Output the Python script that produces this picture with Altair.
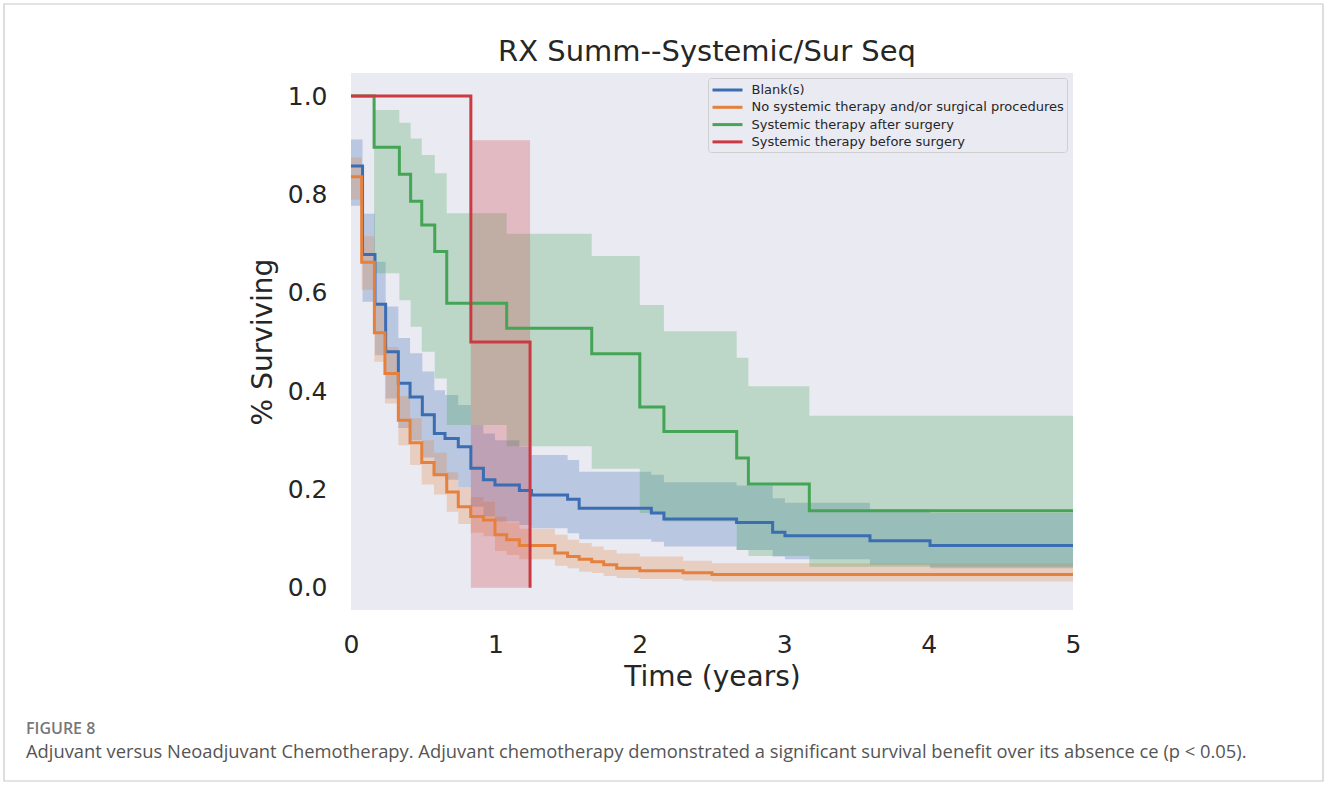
import altair as alt
import pandas as pd

# ---------------- data ----------------
groups = ["Blank(s)",
          "No systemic therapy and/or surgical procedures",
          "Systemic therapy after surgery",
          "Systemic therapy before surgery"]
colors = ["#3b6db3", "#e5803d", "#44a556", "#cb3a43"]

blue_t = [0, 0.08, 0.166, 0.24, 0.328, 0.409, 0.494, 0.577, 0.651, 0.743, 0.83, 0.917, 0.997,
          1.166, 1.25, 1.5, 1.58, 2.08, 2.167, 2.67, 2.92, 3.005, 3.594, 4.01]
blue_s = [0.858, 0.678, 0.577, 0.48, 0.416, 0.388, 0.352, 0.314, 0.304, 0.287, 0.243, 0.22, 0.209,
          0.198, 0.189, 0.18, 0.162, 0.152, 0.14, 0.133, 0.113, 0.106, 0.096, 0.086]
blue_hi = [0.912, 0.761, 0.663, 0.572, 0.508, 0.477, 0.44, 0.402, 0.392, 0.372, 0.331, 0.314, 0.30,
           0.287, 0.27, 0.26, 0.236, 0.23, 0.215, 0.208, 0.182, 0.173, 0.16, 0.152]
blue_lo = [0.777, 0.582, 0.473, 0.385, 0.325, 0.30, 0.265, 0.23, 0.22, 0.205, 0.165, 0.145, 0.135,
           0.128, 0.121, 0.111, 0.099, 0.094, 0.084, 0.077, 0.064, 0.058, 0.047, 0.04]

orange_t = [0, 0.074, 0.162, 0.235, 0.328, 0.409, 0.49, 0.575, 0.663, 0.743, 0.829, 0.917, 0.997,
            1.078, 1.166, 1.412, 1.5, 1.58, 1.667, 1.75, 1.84, 2.0, 2.3, 2.5]
orange_s = [0.836, 0.662, 0.519, 0.436, 0.341, 0.295, 0.255, 0.23, 0.195, 0.165, 0.145, 0.138, 0.108,
            0.098, 0.086, 0.071, 0.064, 0.058, 0.053, 0.047, 0.04, 0.035, 0.031, 0.027]
orange_hi = [0.875, 0.715, 0.58, 0.49, 0.39, 0.345, 0.30, 0.275, 0.235, 0.205, 0.185, 0.175, 0.145,
             0.133, 0.12, 0.108, 0.098, 0.091, 0.084, 0.077, 0.07, 0.064, 0.055, 0.05]
orange_lo = [0.789, 0.606, 0.46, 0.375, 0.29, 0.25, 0.21, 0.19, 0.155, 0.13, 0.112, 0.105, 0.075,
             0.067, 0.058, 0.045, 0.04, 0.033, 0.03, 0.024, 0.02, 0.018, 0.015, 0.013]

green_t = [0, 0.16, 0.335, 0.413, 0.49, 0.58, 0.663, 1.078, 1.667, 2.0, 2.167, 2.671, 2.752, 3.174]
green_s = [1.0, 0.896, 0.841, 0.786, 0.738, 0.684, 0.579, 0.528, 0.476, 0.368, 0.318, 0.264, 0.211, 0.157]
green_hi = [1.0, 0.972, 0.946, 0.914, 0.88, 0.843, 0.762, 0.72, 0.675, 0.575, 0.522, 0.468, 0.41, 0.35]
green_lo = [1.0, 0.64, 0.585, 0.531, 0.48, 0.426, 0.331, 0.288, 0.242, 0.152, 0.135, 0.077, 0.065, 0.043]

red_t = [0, 0.83, 1.24]
red_s = [1.0, 0.5, 0.0]
red_hi = [1.0, 0.91, 0.0]
red_lo = [1.0, 0.0, 0.0]

t_end = 5.0
x_ticks = [0, 1, 2, 3, 4, 5]
y_ticks = [0.0, 0.2, 0.4, 0.6, 0.8, 1.0]

title_text = "RX Summ--Systemic/Sur Seq"
x_title = "Time (years)"
y_title = "% Surviving"
fig_label = "FIGURE 8"
caption = ("Adjuvant versus Neoadjuvant Chemotherapy. Adjuvant chemotherapy demonstrated a significant "
           "survival benefit over its absence ce (p < 0.05).")

# ---------------- build tables ----------------
series = [
    (groups[0], blue_t, blue_s, blue_hi, blue_lo, True),
    (groups[1], orange_t, orange_s, orange_hi, orange_lo, True),
    (groups[2], green_t, green_s, green_hi, green_lo, True),
    (groups[3], red_t, red_s, red_hi, red_lo, False),
]
rows = []
for gi, (g, t, s, hi, lo, extend) in enumerate(series):
    tt, ss, hh, ll = list(t), list(s), list(hi), list(lo)
    if extend:
        tt.append(t_end); ss.append(s[-1]); hh.append(hi[-1]); ll.append(lo[-1])
    for i in range(len(tt)):
        rows.append({"group": g, "gi": gi, "idx": i, "t": tt[i], "s": ss[i], "hi": hh[i], "lo": ll[i]})
df = pd.DataFrame(rows)

FONT = "DejaVu Sans"
TXT = "#262626"

xscale = alt.Scale(domain=[0, 5], nice=False, zero=False)
yscale = alt.Scale(domain=[-0.045, 1.047], nice=False, zero=False)
cscale = alt.Scale(domain=groups, range=colors)

x_axis = alt.Axis(values=x_ticks, format="d", title=x_title, grid=False, ticks=False, domain=False,
                  labelFlush=False, labelFontSize=25, labelPadding=22, titleFontSize=28, titlePadding=6,
                  labelColor=TXT, titleColor=TXT, labelFont=FONT, titleFont=FONT, titleFontWeight="normal")
y_axis = alt.Axis(values=y_ticks, format=".1f", title=y_title, grid=False, ticks=False, domain=False,
                  labelFlush=False, labelFontSize=25, labelPadding=24, titleFontSize=28, titlePadding=10,
                  labelColor=TXT, titleColor=TXT, labelFont=FONT, titleFont=FONT, titleFontWeight="normal")

legend = alt.Legend(title=None, orient="none", legendX=357, legendY=5,
                    symbolType="M-2,0H2", symbolSize=225, symbolStrokeWidth=3,
                    symbolOffset=7.5, labelOffset=15,
                    labelFontSize=13, labelFont=FONT, labelColor=TXT,
                    rowPadding=1.3, padding=3, fillColor="#EAEAF2",
                    strokeColor="#cfcfcf", cornerRadius=3, labelLimit=400)

bands = alt.Chart(df).mark_area(interpolate="step-after", fillOpacity=0.27, clip=True).encode(
    x=alt.X("t:Q", scale=xscale, axis=x_axis),
    y=alt.Y("hi:Q", scale=yscale, axis=y_axis),
    y2=alt.Y2("lo:Q"),
    color=alt.Color("group:N", scale=cscale, legend=legend),
    detail="group:N",
)

lines = alt.Chart(df).mark_line(interpolate="step-after", strokeWidth=3, clip=True).encode(
    x=alt.X("t:Q", scale=xscale),
    y=alt.Y("s:Q", scale=yscale),
    color=alt.Color("group:N", scale=cscale, legend=legend),
    order="idx:Q",
)

border = alt.Chart(pd.DataFrame({"k": [0]})).mark_rect(
    fillOpacity=0, stroke="#c9c9c9", strokeWidth=1.2, clip=False
).encode(x=alt.value(-347), x2=alt.value(972), y=alt.value(-69), y2=alt.value(708))

title_df = pd.DataFrame({"txt": [title_text]})
title_txt = alt.Chart(title_df).mark_text(align="center", baseline="alphabetic", fontSize=29, font=FONT,
                                          color=TXT).encode(
    text="txt:N", x=alt.value(356), y=alt.value(-12))

fig_df = pd.DataFrame({"txt": [fig_label]})
fig_txt = alt.Chart(fig_df).mark_text(align="left", baseline="middle", fontSize=16, font="Open Sans",
                                      fontWeight=600, color="#777777").encode(
    text="txt:N", x=alt.value(-325), y=alt.value(656))
cap_df = pd.DataFrame({"txt": [caption]})
cap_txt = alt.Chart(cap_df).mark_text(align="left", baseline="middle", fontSize=18.35, font="Open Sans",
                                      color="#555555").encode(
    text="txt:N", x=alt.value(-325), y=alt.value(679))

chart = alt.layer(bands, lines, border, title_txt, fig_txt, cap_txt).properties(
    width=722, height=537,
    padding={"left": 351, "top": 73, "right": 255, "bottom": 177},
    autosize=alt.AutoSizeParams(type="none"),
    background="white",
).configure_view(fill="#EAEAF2", strokeWidth=0)

chart.save("out.html", embed_options={"renderer": "svg", "actions": False})
